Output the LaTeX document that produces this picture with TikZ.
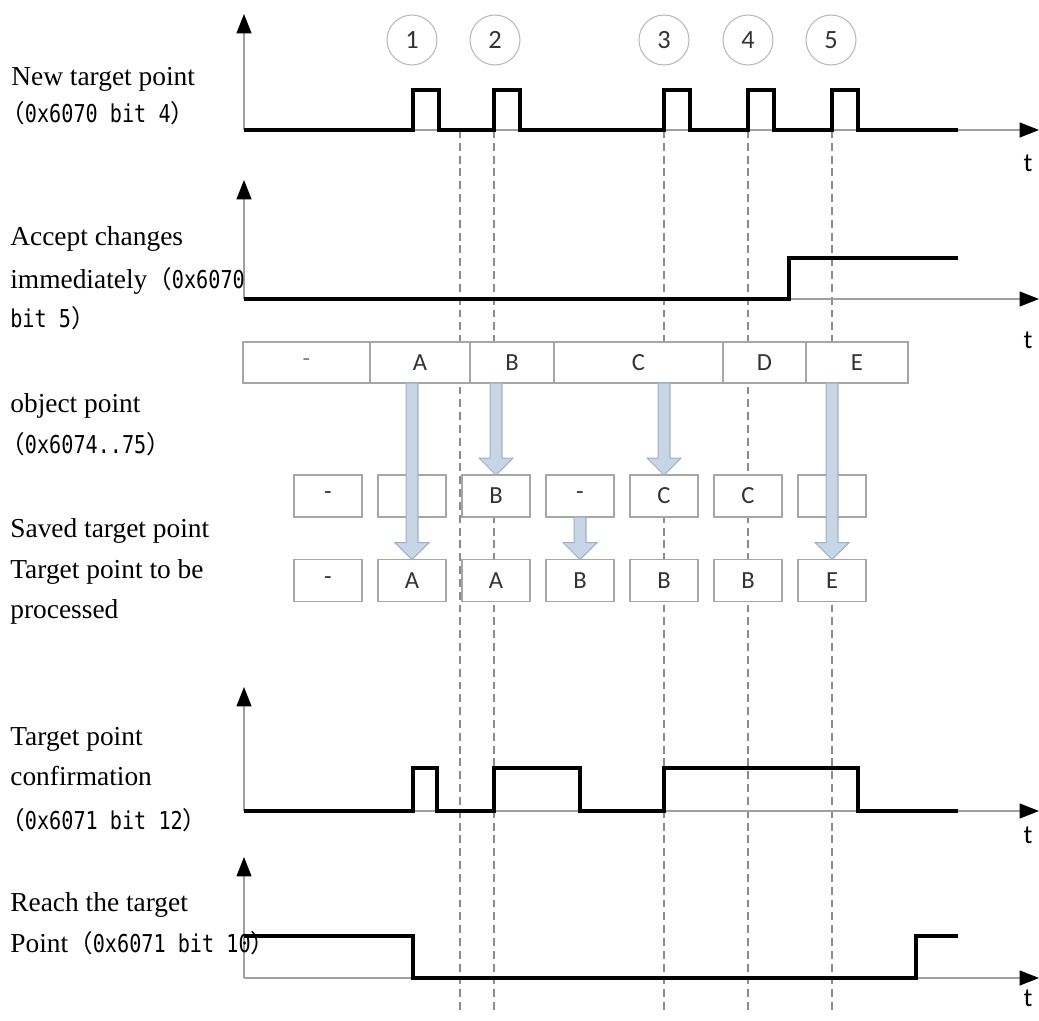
\documentclass[tikz,border=0pt]{standalone}
\usepackage{fontspec}
\setmainfont{Liberation Serif}
\newfontfamily\cjk{Noto Sans CJK SC}
\newfontfamily\regfont{DejaVu Sans Mono}[FakeStretch=0.82]
\newfontfamily\cellfont{Carlito}
\usetikzlibrary{arrows.meta,calc,positioning}

\definecolor{arrfill}{HTML}{C8D5E4}
\definecolor{arredge}{HTML}{9FB0C4}
\definecolor{cellgray}{HTML}{A6A6A6}
\definecolor{celltext}{HTML}{333333}
\definecolor{axisgray}{HTML}{A0A0A0}
\definecolor{markgray}{HTML}{8C8C8C}

\newcommand{\regsize}{\fontsize{14}{16}\selectfont}
\newcommand{\reg}[1]{{\regsize\cjk （\regfont #1\cjk ）}}
\newcommand{\blockarrow}[2]{%
  \draw[blockarr] let \p1=#1, \p2=#2 in
    (\x1-3.4pt,\y1) -- (\x1+3.4pt,\y1) -- (\x1+3.4pt,\y2+9.6pt)
    -- (\x1+9.6pt,\y2+9.6pt) -- (\x1,\y2) -- (\x1-9.6pt,\y2+9.6pt)
    -- (\x1-3.4pt,\y2+9.6pt) -- cycle;}

\tikzset{
  lbl/.style={anchor=base west, inner sep=0pt, font=\fontsize{15.6}{18}\selectfont},
  axisline/.style={draw=axisgray, line width=0.7pt,
    -{Triangle[width=8.5pt,length=11pt,color=black]}},
  sigline/.style={line width=1.8pt},
  markline/.style={draw=markgray, line width=0.6pt, dash pattern=on 4.5pt off 2.8pt},
  cell/.style={draw=cellgray, fill=white, line width=0.8pt, outer sep=0pt,
    inner sep=0pt, minimum height=0.82cm, text=celltext,
    font=\cellfont\fontsize{14}{16}\selectfont},
  evcircle/.style={circle, draw=gray!55, line width=0.6pt, minimum size=1cm,
    inner sep=0pt, text=celltext, font=\cellfont\fontsize{15}{17}\selectfont},
  blockarr/.style={fill=arrfill, draw=arredge, line width=0.6pt},
  tlbl/.style={inner sep=0pt, font=\cellfont\fontsize{15}{17}\selectfont}
}

\begin{document}
\begin{tikzpicture}[x=0.02cm, y=-0.02cm]
\useasboundingbox (0,0) rectangle (1039,1021);

% time marks
\foreach \t in {460,494,664,748,832}
  \draw[markline] (\t,130) -- (\t,1013);

% axes
\foreach \b/\tp in {130/14, 299/180, 811/687, 978/857} {
  \draw[axisline] (244,\b) -- (244,\tp);
  \draw[axisline] (244,\b) -- (1039,\b);
}
\node[tlbl] (t1) at (1028,163) {t};
\node[tlbl] (t2) at (1028,340) {t};
\node[tlbl] (t4) at (1028,835) {t};
\node[tlbl] (t5) at (1028,998) {t};

% new target point
\draw[sigline] (244,130) \foreach \t in {413,494,664,748,832}
  { -- (\t,130) -- (\t,90) -- (\t+26,90) -- (\t+26,130) } -- (958,130);
\foreach \t [count=\i] in {412,495,664,748,831}
  \node[evcircle] (ev\i) at (\t,40) {\i};

% accept changes immediately
\draw[sigline] (244,299) -- (789,299) -- (789,258) -- (958,258);

% object point
\node[cell, minimum width=2.54cm, anchor=west] (obj0) at (243,362.5) {\textcolor{gray}{-}};
\node[cell, minimum width=2.00cm, right=0pt of obj0] (objA) {A};
\node[cell, minimum width=1.68cm, right=0pt of objA] (objB) {B};
\node[cell, minimum width=3.38cm, right=0pt of objB] (objC) {C};
\node[cell, minimum width=1.66cm, right=0pt of objC] (objD) {D};
\node[cell, minimum width=2.04cm, right=0pt of objD] (objE) {E};

% saved / to be processed
\foreach \sv/\cv [count=\i from 0] in {-/-,{}/A,B/A,-/B,C/B,C/B,{}/E} {
  \node[cell, minimum width=1.36cm, minimum height=0.84cm] (sav\i) at (328+84*\i,496) {\sv};
  \node[cell, minimum width=1.36cm, minimum height=0.84cm] (cur\i) at (328+84*\i,580.5) {\cv};
}
\blockarrow{(cur1 |- objA.south)}{(cur1.north)}
\blockarrow{(sav2 |- objB.south)}{(sav2.north)}
\blockarrow{(sav4 |- objC.south)}{(sav4.north)}
\blockarrow{(cur6 |- objE.south)}{(cur6.north)}
\blockarrow{(sav3.south)}{(cur3.north)}

% target point confirmation
\draw[sigline] (244,811) -- (413,811) -- (413,768) -- (437,768) -- (437,811)
  -- (494,811) -- (494,768) -- (580,768) -- (580,811) -- (664,811)
  -- (664,768) -- (858,768) -- (858,811) -- (958,811);

% reach the target point
\draw[sigline] (244,936) -- (413,936) -- (413,978) -- (916,978) -- (916,936) -- (958,936);

% left labels
\node[lbl] (l1a) at (11,85) {New target point};
\node[lbl] (l1b) at (0,122) {\reg{0x6070 bit 4}};
\node[lbl] (l2a) at (10,245) {Accept changes};
\node[lbl] (l2b) at (10,288) {immediately{\regsize\cjk （\regfont 0x6070}};
\node[lbl] (l2c) at (10,327) {\regsize\regfont bit 5\cjk ）};
\node[lbl] (l3a) at (10,412) {object point};
\node[lbl] (l3b) at (0,453) {\reg{0x6074..75}};
\node[lbl] (l4a) at (10,537) {Saved target point};
\node[lbl] (l4b) at (10,578) {Target point to be};
\node[lbl] (l4c) at (10,618) {processed};
\node[lbl] (l5a) at (10,745) {Target point};
\node[lbl] (l5b) at (10,785) {confirmation};
\node[lbl] (l5c) at (0,829) {\reg{0x6071 bit 12}};
\node[lbl] (l6a) at (10,911) {Reach the target};
\node[lbl] (l6b) at (10,952) {Point\reg{0x6071 bit 10}};
\end{tikzpicture}
\end{document}
